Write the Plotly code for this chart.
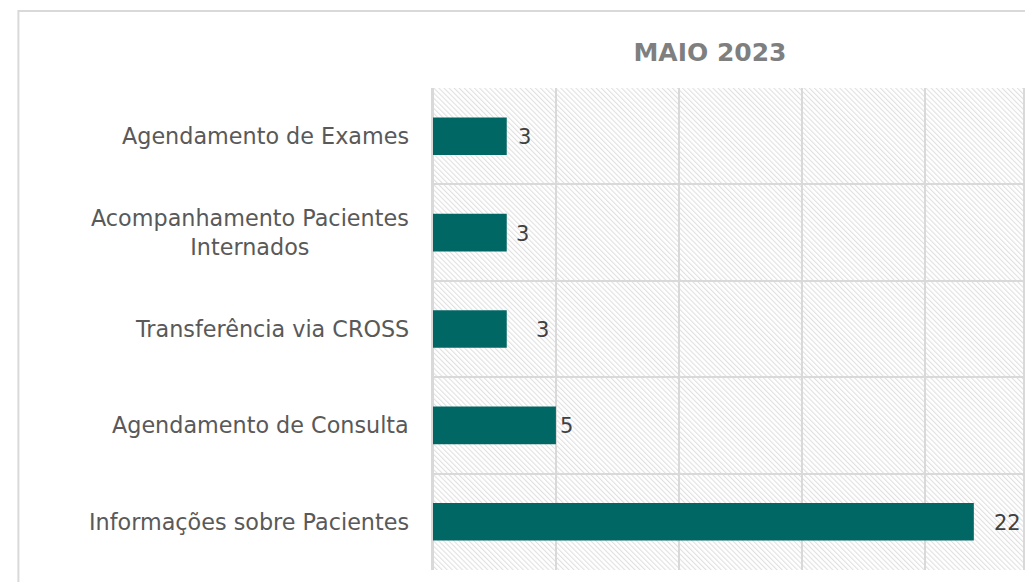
import base64
import plotly.graph_objects as go

# ---- data ----
categories = [
    "Agendamento de Exames",
    "Acompanhamento Pacientes<br>Internados",
    "Transferência via CROSS",
    "Agendamento de Consulta",
    "Informações sobre Pacientes",
]
values = [3, 3, 3, 5, 22]
title_text = "MAIO 2023"
x_max = 24
x_dtick = 5

# ---- styling ----
label_dx = [9, 7, 27, 2, 18]
W, H = 1025, 582
ML, MR, MT, MB = 433, 0, 88, 12
PW, PH = W - ML - MR, H - MT - MB
FONT = "DejaVu Sans"
GRID = "#d9d9d9"
BAR = "#006764"

# hatch background as svg image
svg = f'''<svg xmlns="http://www.w3.org/2000/svg" width="{PW}" height="{PH}" viewBox="0 0 {PW} {PH}">
<defs><pattern id="p" width="3.6" height="10" patternUnits="userSpaceOnUse" patternTransform="rotate(-45)">
<line x1="0.6" y1="-1" x2="0.6" y2="11" stroke="#dcdcdc" stroke-width="1"/></pattern></defs>
<rect x="0" y="0" width="{PW}" height="{PH}" fill="#ffffff"/>
<rect x="0" y="0" width="{PW}" height="{PH}" fill="url(#p)"/></svg>'''
src = "data:image/svg+xml;base64," + base64.b64encode(svg.encode()).decode()

fig = go.Figure()
fig.add_trace(go.Bar(
    x=values, y=categories, orientation="h",
    marker=dict(color=BAR, line=dict(width=0)),
    width=0.39, hoverinfo="x+y",
))

annotations = []
for cat, v, dx in zip(categories, values, label_dx):
    annotations.append(dict(
        x=v, y=cat, xref="x", yref="y", text=str(v), showarrow=False,
        xanchor="left", yanchor="middle", xshift=dx, yshift=-1,
        font=dict(family=FONT, size=21, color="#404040"),
    ))
    annotations.append(dict(
        x=0, y=cat, xref="paper", yref="y", text=cat, showarrow=False,
        xanchor="right", yanchor="middle", xshift=-22, align="center",
        font=dict(family=FONT, size=22.3, color="#595959"),
    ))

fig.update_layout(
    width=W, height=H,
    margin=dict(l=ML, r=MR, t=MT, b=MB, pad=0),
    paper_bgcolor="white", plot_bgcolor="white",
    showlegend=False,
    title=dict(
        text=f"<b>{title_text}</b>", x=710 / W, xanchor="center",
        y=1 - 52 / H, yanchor="middle", xref="container", yref="container",
        font=dict(family=FONT, size=25, color="#7f7f7f"),
    ),
    xaxis=dict(
        range=[0, x_max], dtick=x_dtick, tick0=0, showgrid=True,
        gridcolor=GRID, gridwidth=2, zeroline=True, zerolinecolor=GRID,
        zerolinewidth=2, showticklabels=False, ticks="", showline=False,
        fixedrange=True,
    ),
    yaxis=dict(
        type="category", categoryorder="array", categoryarray=categories,
        autorange="reversed", tickson="boundaries", showgrid=True,
        gridcolor=GRID, gridwidth=2, showticklabels=False, ticks="",
        showline=True, linecolor=GRID, linewidth=2, mirror=True,
        fixedrange=True,
    ),
    annotations=annotations,
    images=[dict(
        source=src, xref="paper", yref="paper", x=0, y=1, sizex=1, sizey=1,
        xanchor="left", yanchor="top", sizing="stretch", layer="below",
    )],
    shapes=[dict(
        type="rect", xref="paper", yref="paper",
        x0=(17 - ML) / PW, x1=1.3, y0=-0.3, y1=(H - MB - 11) / PH,
        line=dict(color=GRID, width=2), fillcolor="rgba(0,0,0,0)", layer="below",
    )],
)

post = ("document.documentElement.style.margin='0';document.body.style.margin='0';"
        "document.documentElement.style.overflow='hidden';document.body.style.overflow='hidden';")
fig.write_html("out.html", post_script=post, config={"displayModeBar": False})
